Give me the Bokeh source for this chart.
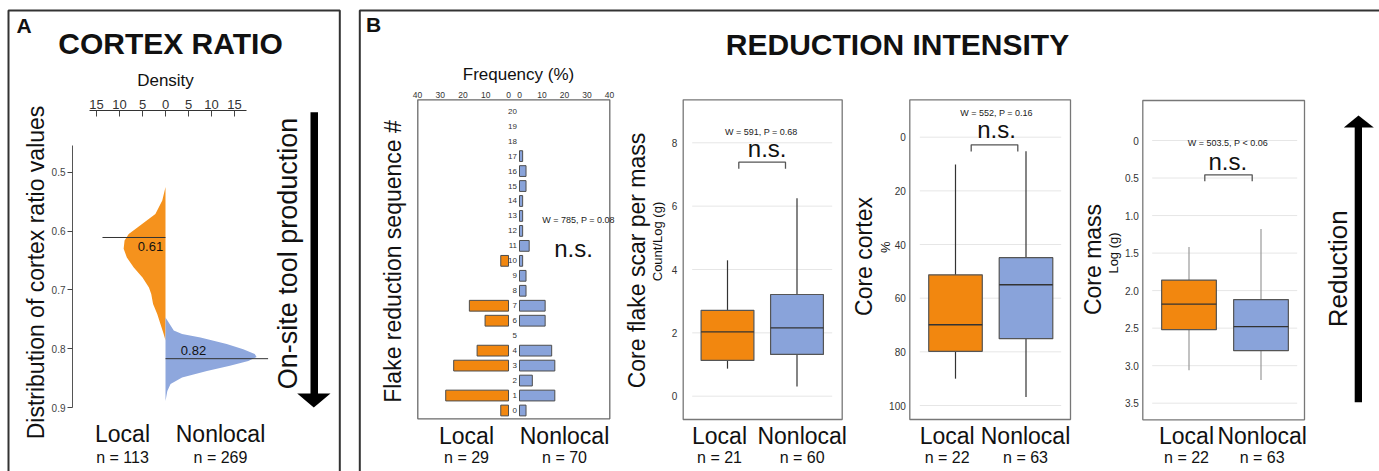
import math
from bokeh.plotting import figure
from bokeh.models import Range1d, LinearAxis, FixedTicker, Label
from bokeh.embed import file_html
from bokeh.resources import INLINE

# ---------------------------------------------------------------- data
groups = ["Local", "Nonlocal"]

# Panel A - cortex ratio density (half violins)
ratio_local = [0.525, 0.548, 0.571, 0.594, 0.605, 0.616, 0.630, 0.645, 0.662,
               0.679, 0.696, 0.707, 0.724, 0.741, 0.758, 0.775, 0.786]
dens_local = [0.0, 0.7, 2.2, 6.1, 8.0, 8.9, 9.1, 8.4, 6.9,
              5.0, 3.6, 3.1, 2.7, 1.8, 1.1, 0.4, 0.0]
ratio_nonlocal = [0.747, 0.769, 0.775, 0.781, 0.792, 0.801, 0.809, 0.814, 0.821,
                  0.829, 0.838, 0.849, 0.860, 0.872, 0.889]
dens_nonlocal = [0.0, 1.8, 3.6, 7.6, 13.3, 16.9, 19.4, 19.8, 18.0,
                 14.0, 9.0, 3.6, 1.1, 0.4, 0.0]
median_ratio = [0.611, 0.817]
n_ratio = [113, 269]
density_ticks = [-15, -10, -5, 0, 5, 10, 15]
ratio_ticks = [0.5, 0.6, 0.7, 0.8, 0.9]

# Panel B1 - flake reduction sequence frequency (%)
seq = list(range(21))
freq_local = [3.4, 27.6, 0.0, 24.1, 13.8, 0.0, 10.3, 17.2, 0.0, 0.0, 3.4,
              0.0, 0.0, 0.0, 0.0, 0.0, 0.0, 0.0, 0.0, 0.0, 0.0]
freq_nonlocal = [2.9, 15.7, 5.7, 15.7, 14.3, 0.0, 11.4, 11.4, 2.9, 2.9, 1.4,
                 4.3, 1.4, 1.4, 1.4, 2.9, 2.9, 1.4, 0.0, 0.0, 0.0]
freq_ticks = [0, 10, 20, 30, 40]
n_seq = [29, 70]
stat_seq = "W = 785, P = 0.08"

# Panel B2 - core flake scar per mass (count / log g)
scar_lo = [0.87, 0.31]
scar_q1 = [1.13, 1.32]
scar_med = [2.03, 2.16]
scar_q3 = [2.71, 3.21]
scar_hi = [4.29, 6.25]
scar_ticks = [0, 2, 4, 6, 8]
n_scar = [21, 60]
stat_scar = "W = 591, P = 0.68"

# Panel B3 - core cortex (%)
cortex_lo = [10.2, 5.2]
cortex_q1 = [51.3, 44.9]
cortex_med = [69.9, 55.0]
cortex_q3 = [79.8, 75.1]
cortex_hi = [90.0, 96.8]
cortex_ticks = [0, 20, 40, 60, 80, 100]
n_cortex = [22, 63]
stat_cortex = "W = 552, P = 0.16"

# Panel B4 - core mass (log g)
mass_ticks = [0, 0.5, 1.0, 1.5, 2.0, 2.5, 3.0, 3.5]
mass_lo = [1.42, 1.18]
mass_q1 = [1.86, 2.12]
mass_med = [2.18, 2.48]
mass_q3 = [2.52, 2.80]
mass_hi = [3.06, 3.19]
n_mass = [22, 63]
stat_mass = "W = 503.5, P < 0.06"

# ---------------------------------------------------------------- style
ORANGE = "#F2870F"
BLUE = "#89A3DA"
D_ORANGE = "#F5921D"
D_BLUE = "#8EA7DD"
FONT = "Liberation Sans"
INK = "#111111"
BOX_W = 0.76

# canvas in picture pixels
W, H = 1379, 471
X0, X1 = 0, W
Y0, Y1 = 0, H


def xrange_from(v0, p0, v1, p1):
    s = (p1 - p0) / (v1 - v0)
    return Range1d(start=v0 + (X0 - p0) / s, end=v0 + (X1 - p0) / s)


def yrange_from(v0, p0, v1, p1):
    s = (p1 - p0) / (v1 - v0)
    return Range1d(start=v0 + (Y1 - p0) / s, end=v0 + (Y0 - p0) / s)


p = figure(width=W, height=H, output_backend="svg", toolbar_location=None,
           x_range=Range1d(X0, X1), y_range=Range1d(Y1, Y0),
           x_axis_type=None, y_axis_type=None, min_border=0, title=None)
p.outline_line_color = None
p.background_fill_color = "white"
p.border_fill_color = "white"

p.extra_x_ranges = {
    "dens": xrange_from(0, 165, 15, 234),
    "hl": xrange_from(0, 508, 40, 417),
    "hr": xrange_from(0, 519, 40, 609),
    "b2x": xrange_from(0, 727, 1, 796.5),
    "b3x": xrange_from(0, 955, 1, 1025.5),
    "b4x": xrange_from(0, 1188.5, 1, 1260.5),
}
p.extra_y_ranges = {
    "ratio": yrange_from(0.5, 171.7, 0.9, 407),
    "seq": yrange_from(0, 410, 20, 110.7),
    "b2y": yrange_from(0, 395.7, 8, 142.3),
    "b3y": yrange_from(0, 136.7, 100, 405),
    "b4y": yrange_from(0, 140, 3.5, 402.7),
}


def lab(x, y, text, size, color=INK, align="center", baseline="middle",
        angle=0.0, style="normal"):
    p.add_layout(Label(x=x, y=y, text=text, text_font=FONT,
                       text_font_size=f"{size}px", text_color=color,
                       text_align=align, text_baseline=baseline,
                       angle=angle, text_font_style=style))


def add_axis(side, loc, ticks, rname, size, standoff=3, tick_out=0, tick_in=0,
             line_color=None, bounds=None, overrides=None, color="#333333"):
    if side in ("left", "right"):
        ax = LinearAxis(y_range_name=rname, fixed_location=loc)
    else:
        ax = LinearAxis(x_range_name=rname, fixed_location=loc)
    ax.ticker = FixedTicker(ticks=ticks, minor_ticks=[])
    ax.minor_tick_line_color = None
    ax.major_tick_out = tick_out
    ax.major_tick_in = tick_in
    if tick_out == 0 and tick_in == 0:
        ax.major_tick_line_color = None
    else:
        ax.major_tick_line_color = "#444444"
    ax.axis_line_color = line_color
    if bounds is not None:
        ax.bounds = bounds
    ax.major_label_text_font = FONT
    ax.major_label_text_font_size = f"{size}px"
    ax.major_label_text_color = color
    ax.major_label_standoff = standoff
    if overrides:
        ax.major_label_overrides = overrides
    p.add_layout(ax, side)


# ---------------------------------------------------------------- panel frames
p.line(x=[8, 8, 339.3, 339.3], y=[490, 10, 10, 490], line_color="#333333", line_width=2)
p.line(x=[359.3, 359.3, 1390], y=[490, 10, 10], line_color="#333333", line_width=2)
lab(23.5, 24.5, "A", 21, style="bold")
lab(373, 24, "B", 21, style="bold")
lab(170, 43, "CORTEX RATIO", 30, style="bold")
lab(897, 44, "REDUCTION INTENSITY", 30, style="bold")

# ---------------------------------------------------------------- panel A
p.harea(y=ratio_local, x1=[-d for d in dens_local], x2=[0] * len(dens_local),
        x_range_name="dens", y_range_name="ratio", fill_color=D_ORANGE)
p.harea(y=ratio_nonlocal, x1=[0] * len(dens_nonlocal), x2=dens_nonlocal,
        x_range_name="dens", y_range_name="ratio", fill_color=D_BLUE)
MED_EXT = [-13.7, 22.3]
p.segment(x0=[0, 0], x1=MED_EXT, y0=median_ratio, y1=median_ratio,
          x_range_name="dens", y_range_name="ratio", line_color="#333333", line_width=1)
lab(150, 246, f"{median_ratio[0]:.2f}", 13)
lab(193, 350, f"{median_ratio[1]:.2f}", 13)

add_axis("above", 110, density_ticks, "dens", 13, standoff=2, tick_in=6,
         line_color="#333333", bounds=(-16.6, 17.7),
         overrides={t: str(abs(t)) for t in density_ticks})
add_axis("left", 72, ratio_ticks, "ratio", 10, standoff=2, tick_out=5,
         line_color="#555555", bounds=(0.454, 0.9), color="#444444")
lab(165, 80, "Density", 17)
lab(35, 272, "Distribution of cortex ratio values", 23, angle=math.pi / 2)
lab(287, 253, "On-site tool production", 27, angle=math.pi / 2)
p.quad(left=[310], right=[317.5], top=[111.7], bottom=[394], fill_color="black", line_color=None)
p.patch(x=[296.7, 330, 313.3], y=[393, 393, 407], fill_color="black", line_color=None)
for cx, g, n in zip([122, 220], groups, n_ratio):
    lab(cx, 433, g, 23)
    lab(cx, 457, f"n = {n}", 16)

# ---------------------------------------------------------------- panel B1
p.quad(left=[417.3], right=[609.3], top=[99.3], bottom=[418.3],
       fill_color=None, line_color="#6a6a6a", line_width=1.3)
loc_seq = [s for s, f in zip(seq, freq_local) if f > 0]
loc_val = [f for f in freq_local if f > 0]
non_seq = [s for s, f in zip(seq, freq_nonlocal) if f > 0]
non_val = [f for f in freq_nonlocal if f > 0]
p.hbar(y=loc_seq, left=0, right=loc_val, height=0.72, x_range_name="hl", y_range_name="seq",
       fill_color=ORANGE, line_color="#4d4d4d", line_width=1)
p.hbar(y=non_seq, left=0, right=non_val, height=0.72, x_range_name="hr", y_range_name="seq",
       fill_color=BLUE, line_color="#4d4d4d", line_width=1)
add_axis("above", 99.3, freq_ticks, "hl", 8.5, standoff=2)
add_axis("above", 99.3, freq_ticks, "hr", 8.5, standoff=2)
add_axis("left", 517.5, seq, "seq", 8, standoff=1)
lab(518, 74, "Frequency (%)", 17)
lab(392, 261, "Flake reduction sequence #", 23, angle=math.pi / 2)
lab(578, 219, stat_seq, 9, color="#222222")
lab(573, 248, "n.s.", 24)
for cx, g, n in zip([466, 564], groups, n_seq):
    lab(cx, 435, g, 23)
    lab(cx, 457, f"n = {n}", 16)


# ---------------------------------------------------------------- box plots
def boxplot(xname, yname, frame, grid_x, ticks, lo, q1, med, q3, hi, whisker,
            axis_loc, standoff, overrides=None):
    l, r, t, b = frame
    p.segment(x0=[grid_x[0]] * len(ticks), x1=[grid_x[1]] * len(ticks), y0=ticks, y1=ticks,
              y_range_name=yname, line_color="#e6e6e6", line_width=1)
    p.quad(left=[l], right=[r], top=[t], bottom=[b], fill_color=None,
           line_color="#777777", line_width=1.3)
    idx = list(range(len(groups)))
    p.segment(x0=idx, x1=idx, y0=lo, y1=hi, x_range_name=xname, y_range_name=yname,
              line_color=whisker, line_width=1.2)
    p.vbar(x=idx, width=BOX_W, top=q3, bottom=q1, x_range_name=xname, y_range_name=yname,
           fill_color=[ORANGE, BLUE], line_color="#555555", line_width=1.2)
    p.segment(x0=[i - BOX_W / 2 for i in idx], x1=[i + BOX_W / 2 for i in idx],
              y0=med, y1=med, x_range_name=xname, y_range_name=yname,
              line_color="#333333", line_width=1.3)
    add_axis("left", axis_loc, ticks, yname, 10, standoff=standoff, overrides=overrides)


def bracket(x0, x1, top, bottom):
    p.line(x=[x0, x0, x1, x1], y=[bottom, top, top, bottom], line_color="#555555", line_width=1.3)


# B2
boxplot("b2x", "b2y", (682.7, 841.7, 99.3, 419), (691.7, 831.7), scar_ticks,
        scar_lo, scar_q1, scar_med, scar_q3, scar_hi, "#333333", 682.7, 6)
lab(760.7, 131.7, stat_scar, 9, color="#222222")
lab(766.7, 148.3, "n.s.", 24)
bracket(738.3, 785, 161.7, 168.3)
lab(636, 260, "Core flake scar per mass", 23, angle=math.pi / 2)
lab(657, 241, "Count/Log (g)", 13, angle=math.pi / 2)
for cx, g, n in zip([719, 801.7], groups, n_scar):
    lab(cx, 435, g, 23)
    lab(cx, 457, f"n = {n}", 16)

# B3
boxplot("b3x", "b3y", (909.3, 1070, 99.3, 419), (919.3, 1060.7), cortex_ticks,
        cortex_lo, cortex_q1, cortex_med, cortex_q3, cortex_hi, "#333333", 909.3, 4)
lab(996, 112.3, stat_cortex, 9, color="#222222")
lab(996, 129.3, "n.s.", 24)
bracket(970.7, 1017.3, 144.3, 151)
lab(863.5, 256, "Core cortex", 23, angle=math.pi / 2)
lab(884.5, 246.7, "%", 13, angle=math.pi / 2)
for cx, g, n in zip([946.7, 1025], groups, n_cortex):
    lab(cx, 435, g, 23)
    lab(cx, 457, f"n = {n}", 16)

# B4
boxplot("b4x", "b4y", (1142.3, 1304, 100, 419.3), (1151.7, 1296.7), mass_ticks,
        mass_lo, mass_q1, mass_med, mass_q3, mass_hi, "#999999", 1142.3, 4,
        overrides={t: ("0" if t == 0 else f"{t:.1f}") for t in mass_ticks})
lab(1227.3, 142.7, stat_mass, 9, color="#222222")
lab(1227.3, 160.7, "n.s.", 24)
bracket(1204.3, 1251.7, 174.3, 180.7)
lab(1092, 259, "Core mass", 23, angle=math.pi / 2)
lab(1112.5, 252.5, "Log (g)", 13, angle=math.pi / 2)
for cx, g, n in zip([1186, 1261.7], groups, n_mass):
    lab(cx, 435, g, 23)
    lab(cx, 457, f"n = {n}", 16)

# reduction arrow
lab(1337, 268.3, "Reduction", 26, angle=math.pi / 2)
p.quad(left=[1354.2], right=[1361.5], top=[126], bottom=[401.7], fill_color="black", line_color=None)
p.patch(x=[1343.3, 1373.3, 1358], y=[127, 127, 115], fill_color="black", line_color=None)

open("out.html", "w").write(file_html(p, INLINE))
